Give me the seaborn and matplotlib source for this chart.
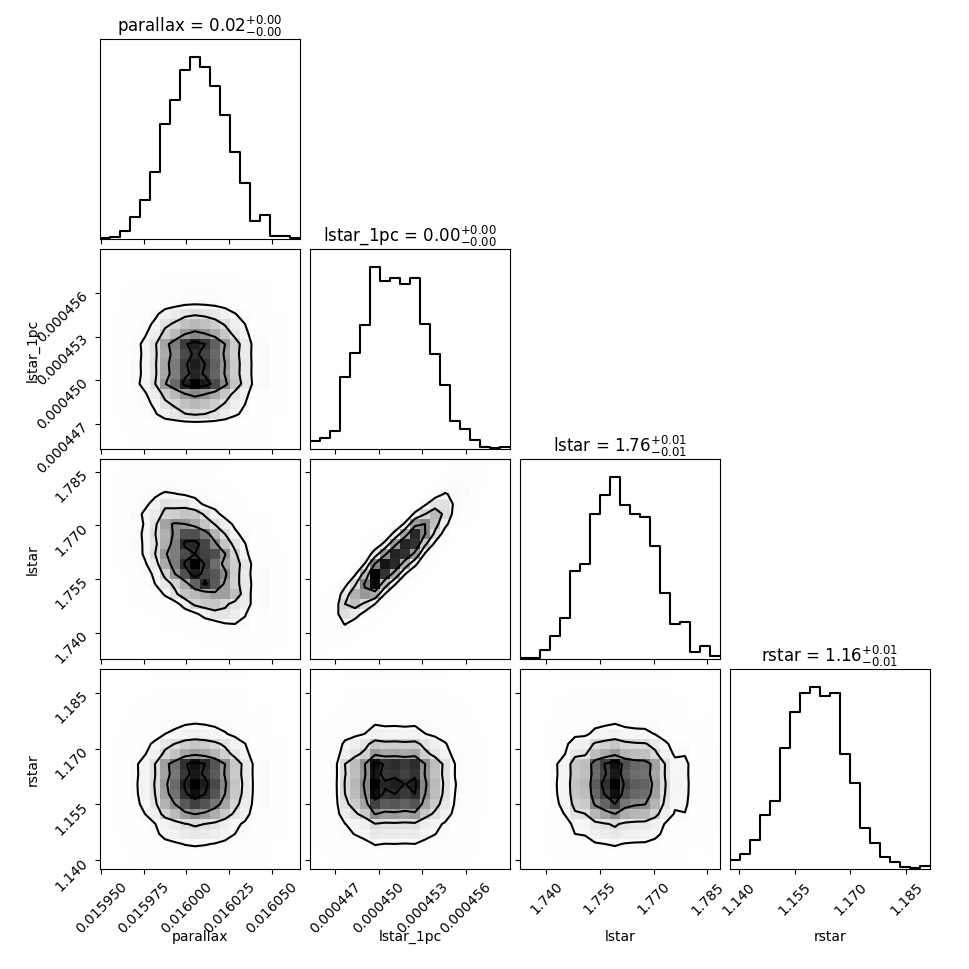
import numpy as np
import matplotlib
matplotlib.use("Agg")
import matplotlib.pyplot as plt
import seaborn as sns
from matplotlib.colors import LinearSegmentedColormap

# =========================
# DATA
# =========================
labels = ["parallax", "lstar_1pc", "lstar", "rstar"]
titles = [
    r"parallax = $0.02_{-0.00}^{+0.00}$",
    r"lstar_1pc = $0.00_{-0.00}^{+0.00}$",
    r"lstar = $1.76_{-0.01}^{+0.01}$",
    r"rstar = $1.16_{-0.01}^{+0.01}$",
]

parallax_range = (0.01594924, 0.01606661)
lstar_1pc_range = (0.00044528, 0.00045902)
lstar_range = (1.73265, 1.78855)
rstar_range = (1.13766, 1.19136)

# 20-bin marginal histograms
parallax_counts = [2, 7, 23, 65, 116, 200, 344, 418, 507, 545,
                   515, 460, 372, 260, 169, 53, 71, 8, 8, 2]
lstar_1pc_counts = [25, 33, 55, 215, 287, 372, 545, 504, 512, 494,
                    512, 374, 284, 192, 85, 59, 28, 5, 2, 5]
lstar_counts = [2, 2, 27, 69, 123, 263, 284, 434, 491, 545,
                462, 434, 425, 339, 198, 105, 112, 21, 38, 9]
rstar_counts = [27, 45, 87, 162, 204, 364, 472, 528, 545, 518,
                528, 344, 257, 123, 79, 35, 21, 7, 2, 10]

parallax_ticks = [0.015950, 0.015975, 0.016000, 0.016025, 0.016050]
lstar_1pc_ticks = [0.000447, 0.000450, 0.000453, 0.000456]
lstar_ticks = [1.740, 1.755, 1.770, 1.785]
rstar_ticks = [1.140, 1.155, 1.170, 1.185]

ranges = [parallax_range, lstar_1pc_range, lstar_range, rstar_range]
counts = [parallax_counts, lstar_1pc_counts, lstar_counts, rstar_counts]
ticks = [parallax_ticks, lstar_1pc_ticks, lstar_ticks, rstar_ticks]
tick_fmt = ["{:.6f}", "{:.6f}", "{:.3f}", "{:.3f}"]

N_BINS = 20
SUB = 5


# =========================
# HELPERS
# =========================
def bin_points(cnts, rng, sub=SUB):
    # weighted points spread evenly inside each bin (step density of the histogram)
    edges = np.linspace(rng[0], rng[1], len(cnts) + 1)
    width = edges[1] - edges[0]
    offs = (np.arange(sub) + 0.5) / sub * width
    pts = (edges[:-1, None] + offs[None, :]).ravel()
    w = np.repeat(np.asarray(cnts, float) / sub, sub)
    return pts, w


def product_grid(i, j):
    xp, xw = bin_points(counts[i], ranges[i])
    yp, yw = bin_points(counts[j], ranges[j])
    X, Y = np.meshgrid(xp, yp, indexing="ij")
    W = np.outer(xw, yw)
    return X.ravel(), Y.ravel(), W.ravel()


# lstar = lstar_1pc / parallax^2 for the correlated panels
par_p, par_w = bin_points(parallax_counts, parallax_range)
l1_p, l1_w = bin_points(lstar_1pc_counts, lstar_1pc_range)
P, L1 = np.meshgrid(par_p, l1_p, indexing="ij")
PW = np.outer(par_w, l1_w)
derived = {"parallax": P.ravel(), "lstar_1pc": L1.ravel(),
           "lstar": (L1 / P ** 2).ravel(), "w": PW.ravel()}


def pair_data(row, col):
    if row == 2 and col in (0, 1):
        return derived[labels[col]], derived["lstar"], derived["w"]
    return product_grid(col, row)


def corner_levels(H):
    levels = 1.0 - np.exp(-0.5 * np.arange(0.5, 2.1, 0.5) ** 2)
    Hflat = np.sort(H.ravel())[::-1]
    sm = np.cumsum(Hflat)
    sm /= sm[-1]
    V = np.empty(len(levels))
    for k, v0 in enumerate(levels):
        below = Hflat[sm <= v0]
        V[k] = below[-1] if len(below) else Hflat[0]
    V.sort()
    return np.unique(V)


def draw_contours(ax, x, y, w, xr, yr):
    H, xe, ye = np.histogram2d(x, y, bins=N_BINS, range=[xr, yr], weights=w)
    V = corner_levels(H)
    X1 = 0.5 * (xe[1:] + xe[:-1])
    Y1 = 0.5 * (ye[1:] + ye[:-1])
    H2 = H.min() + np.zeros((H.shape[0] + 4, H.shape[1] + 4))
    H2[2:-2, 2:-2] = H
    H2[2:-2, 1] = H[:, 0]
    H2[2:-2, -2] = H[:, -1]
    H2[1, 2:-2] = H[0]
    H2[-2, 2:-2] = H[-1]
    H2[1, 1] = H[0, 0]
    H2[1, -2] = H[0, -1]
    H2[-2, 1] = H[-1, 0]
    H2[-2, -2] = H[-1, -1]
    X2 = np.concatenate([X1[0] + np.array([-2, -1]) * np.diff(X1[:2]), X1,
                         X1[-1] + np.array([1, 2]) * np.diff(X1[-2:])])
    Y2 = np.concatenate([Y1[0] + np.array([-2, -1]) * np.diff(Y1[:2]), Y1,
                         Y1[-1] + np.array([1, 2]) * np.diff(Y1[-2:])])
    ax.contour(X2, Y2, H2.T, V, colors="k", linewidths=1.5)


density_cmap = LinearSegmentedColormap.from_list("density", [(1, 1, 1, 0), (0, 0, 0, 1)])

# =========================
# FIGURE
# =========================
K = len(labels)
fig, axes = plt.subplots(K, K, figsize=(9.7, 9.7))
fig.subplots_adjust(left=1 / 9.7, bottom=1 / 9.7, right=9.3 / 9.7, top=9.3 / 9.7,
                    wspace=0.05, hspace=0.05)

for row in range(K):
    for col in range(K):
        ax = axes[row, col]
        if col > row:
            ax.set_axis_off()
            continue

        if row == col:
            pts, w = bin_points(counts[col], ranges[col])
            sns.histplot(x=pts, weights=w, bins=N_BINS, binrange=ranges[col],
                         element="step", fill=False, color="k", linewidth=1.5, ax=ax)
            ax.set_ylim(0, 1.1 * max(counts[col]))
            ax.set_yticks([])
            ax.set_title(titles[col], fontsize=12)
        else:
            x, y, w = pair_data(row, col)
            sns.histplot(x=x, y=y, weights=w, bins=N_BINS,
                         binrange=(ranges[col], ranges[row]),
                         cmap=density_cmap, ax=ax)
            draw_contours(ax, x, y, w, ranges[col], ranges[row])
            ax.set_ylim(ranges[row])
            ax.set_yticks(ticks[row])
            if col == 0:
                ax.set_yticklabels([tick_fmt[row].format(v) for v in ticks[row]],
                                   rotation=45)
                ax.set_ylabel(labels[row], fontsize=10)
                ax.yaxis.set_label_coords(-0.3, 0.5)
            else:
                ax.set_yticklabels([])
                ax.set_ylabel("")

        ax.set_xlim(ranges[col])
        ax.set_xticks(ticks[col])
        if row == K - 1:
            ax.set_xticklabels([tick_fmt[col].format(v) for v in ticks[col]],
                               rotation=45)
            ax.set_xlabel(labels[col], fontsize=10)
            ax.xaxis.set_label_coords(0.5, -0.3)
        else:
            ax.set_xticklabels([])
            ax.set_xlabel("")
        if row == col:
            ax.set_ylabel("")

fig.savefig("out.png", dpi=100)
print("Done")
